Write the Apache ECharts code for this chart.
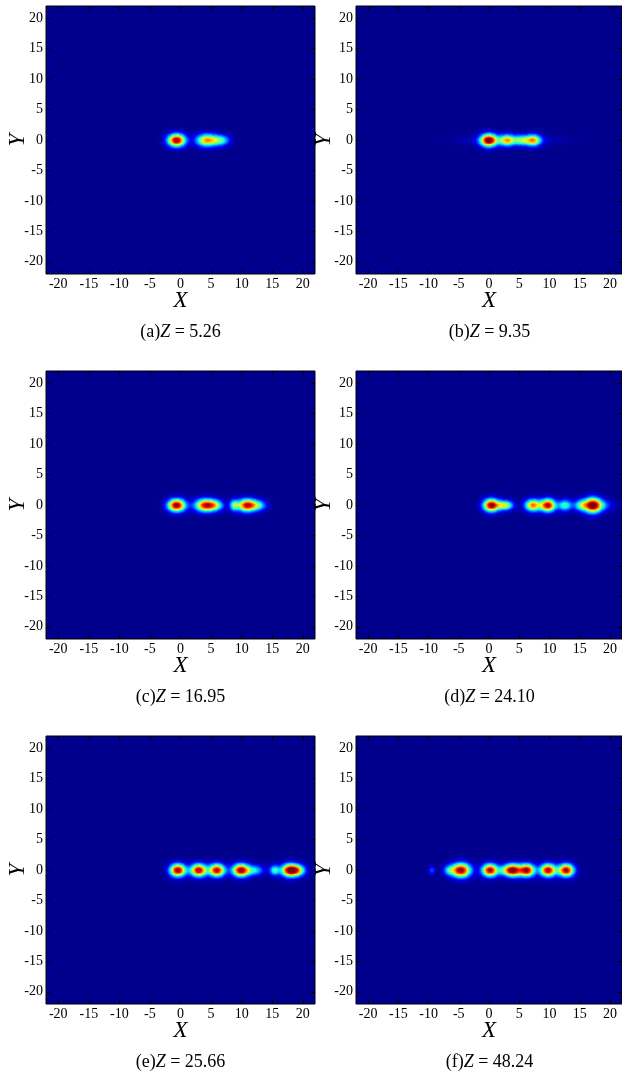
<!DOCTYPE html>
<html>
<head>
<meta charset="utf-8">
<script src="https://cdn.jsdelivr.net/npm/echarts@6/dist/echarts.min.js"></script>
<style>
  html, body { margin: 0; padding: 0; background: #fff; }
  #chart { width: 622px; height: 1078px; }
</style>
</head>
<body>
<div id="chart"></div>
<script>
// tick labels shared by every panel
const ticks = [-20, -15, -10, -5, 0, 5, 10, 15, 20];
const panelLetters = ['(a)', '(b)', '(c)', '(d)', '(e)', '(f)'];
const zValues = ['5.26', '9.35', '16.95', '24.10', '25.66', '48.24'];

// blobs: [X centre, peak, x width, y width]
const blobsA = [[-0.6, 1.0, 1.0, 0.72], [4.3, 0.72, 1.15, 0.7], [6.6, 0.42, 1.0, 0.62]];
const blobsB = [[0.0, 1.0, 0.95, 0.72], [3.0, 0.6, 0.85, 0.65], [5.4, 0.42, 1.0, 0.6],
                [7.4, 0.62, 0.85, 0.65], [3.5, 0.12, 5.0, 0.55]];
const blobsC = [[-0.6, 1.0, 1.0, 0.72], [4.1, 0.88, 1.15, 0.72], [5.8, 0.4, 0.9, 0.62],
                [8.8, 0.45, 0.5, 0.65], [10.8, 0.86, 1.0, 0.72], [12.6, 0.42, 1.0, 0.62]];
const blobsD = [[0.4, 1.0, 0.9, 0.72], [2.7, 0.6, 0.9, 0.55], [7.3, 0.76, 0.9, 0.68],
                [9.8, 0.95, 0.85, 0.72], [12.6, 0.45, 0.8, 0.65], [15.3, 0.45, 0.8, 0.65],
                [17.2, 1.0, 0.95, 0.85], [18.8, 0.22, 1.2, 0.65]];
const blobsE = [[-0.4, 1.0, 0.9, 0.72], [3.0, 0.97, 0.9, 0.72], [6.0, 0.95, 0.9, 0.72],
                [9.9, 1.0, 0.95, 0.72], [12.2, 0.35, 1.0, 0.6], [15.4, 0.42, 0.55, 0.6],
                [17.9, 1.0, 0.95, 0.72], [19.3, 0.5, 0.85, 0.65]];
const blobsF = [[-9.4, 0.2, 0.4, 0.5], [-6.6, 0.28, 0.65, 0.6], [-4.6, 1.0, 1.1, 0.8],
                [0.2, 0.97, 0.9, 0.72], [2.6, 0.3, 0.8, 0.6], [4.0, 0.97, 0.9, 0.72],
                [6.3, 0.97, 0.9, 0.72], [9.8, 0.97, 0.9, 0.72], [12.8, 0.97, 0.9, 0.72]];
const panelBlobs = [blobsA, blobsB, blobsC, blobsD, blobsE, blobsF];

const jet = ['#00008c', '#0000ff', '#0080ff', '#00ffff', '#80ff80',
             '#ffff00', '#ff8000', '#ff0000', '#800000'];

const axisMin = -22, axisMax = 22, cell = 0.2;
const nCells = Math.round((axisMax - axisMin) / cell);
const cats = [];
for (let i = 0; i < nCells; i++) cats.push((axisMin + (i + 0.5) * cell).toFixed(1));

// sample the intensity on the heatmap cells near Y = 0
function field(blobs) {
  const out = [];
  for (let j = 0; j < nCells; j++) {
    const y = axisMin + (j + 0.5) * cell;
    if (Math.abs(y) > 4) continue;
    for (let i = 0; i < nCells; i++) {
      const x = axisMin + (i + 0.5) * cell;
      let v = 0;
      blobs.forEach(b => {
        const dx = (x - b[0]) / b[2], dy = y / b[3];
        v += b[1] * Math.exp(-0.5 * (dx * dx + dy * dy));
      });
      if (v > 0.004) out.push([i, j, Math.min(v, 1)]);
    }
  }
  return out;
}

const font = 'Liberation Serif';
const lefts = [46, 356], widths = [269, 267], tops = [6, 371, 736], h = 268;
const yNameGaps = [17, 21];

const grid = [], xAxis = [], yAxis = [], series = [], graphic = [];
panelBlobs.forEach((blobs, k) => {
  const col = k % 2, row = Math.floor(k / 2);
  grid.push({
    left: lefts[col], top: tops[row], width: widths[col], height: h,
    show: true, borderColor: '#000', borderWidth: 1, backgroundColor: jet[0]
  });
  const tickStyle = { inside: true, length: 4, customValues: ticks, lineStyle: { color: '#000' } };
  const noLine = { show: false, onZero: false };
  xAxis.push({
    gridIndex: k, type: 'value', min: axisMin, max: axisMax, position: 'bottom',
    axisLine: noLine, splitLine: { show: false }, axisTick: tickStyle,
    axisLabel: { customValues: ticks, color: '#000', fontFamily: font, fontSize: 14, margin: 3 },
    name: 'X', nameLocation: 'middle', nameGap: 15, nameMoveOverlap: false,
    nameTextStyle: { color: '#000', fontFamily: font, fontStyle: 'italic', fontSize: 23 }
  });
  xAxis.push({
    gridIndex: k, type: 'value', min: axisMin, max: axisMax, position: 'top',
    axisLine: noLine, splitLine: { show: false }, axisTick: tickStyle,
    axisLabel: { show: false }
  });
  xAxis.push({ gridIndex: k, type: 'category', data: cats, show: false });
  yAxis.push({
    gridIndex: k, type: 'value', min: axisMin, max: axisMax, position: 'left',
    axisLine: noLine, splitLine: { show: false }, axisTick: tickStyle,
    axisLabel: { customValues: ticks, color: '#000', fontFamily: font, fontSize: 14, margin: 3 },
    name: 'Y', nameLocation: 'middle', nameGap: yNameGaps[col], nameRotate: 90, nameMoveOverlap: false,
    nameTextStyle: { color: '#000', fontFamily: font, fontStyle: 'italic', fontSize: 23 }
  });
  yAxis.push({
    gridIndex: k, type: 'value', min: axisMin, max: axisMax, position: 'right',
    axisLine: noLine, splitLine: { show: false }, axisTick: tickStyle,
    axisLabel: { show: false }
  });
  yAxis.push({ gridIndex: k, type: 'category', data: cats, show: false });
  series.push({
    type: 'heatmap', xAxisIndex: 3 * k + 2, yAxisIndex: 3 * k + 2,
    data: field(blobs), progressive: 0, emphasis: { disabled: true }, silent: true
  });
  graphic.push({
    type: 'text', x: lefts[col] + widths[col] / 2, y: tops[row] + h + 58,
    style: {
      text: panelLetters[k] + '{i|Z} = ' + zValues[k],
      rich: { i: { fontStyle: 'italic', fontFamily: font, fontSize: 18 } },
      fontFamily: font, fontSize: 18, fill: '#000', align: 'center', verticalAlign: 'middle'
    }
  });
});

const chart = echarts.init(document.getElementById('chart'));
chart.setOption({
  animation: false,
  grid, xAxis, yAxis, series, graphic,
  visualMap: {
    show: false, type: 'continuous', min: 0, max: 1,
    seriesIndex: series.map((s, i) => i),
    inRange: { color: jet }
  }
});
</script>
</body>
</html>
